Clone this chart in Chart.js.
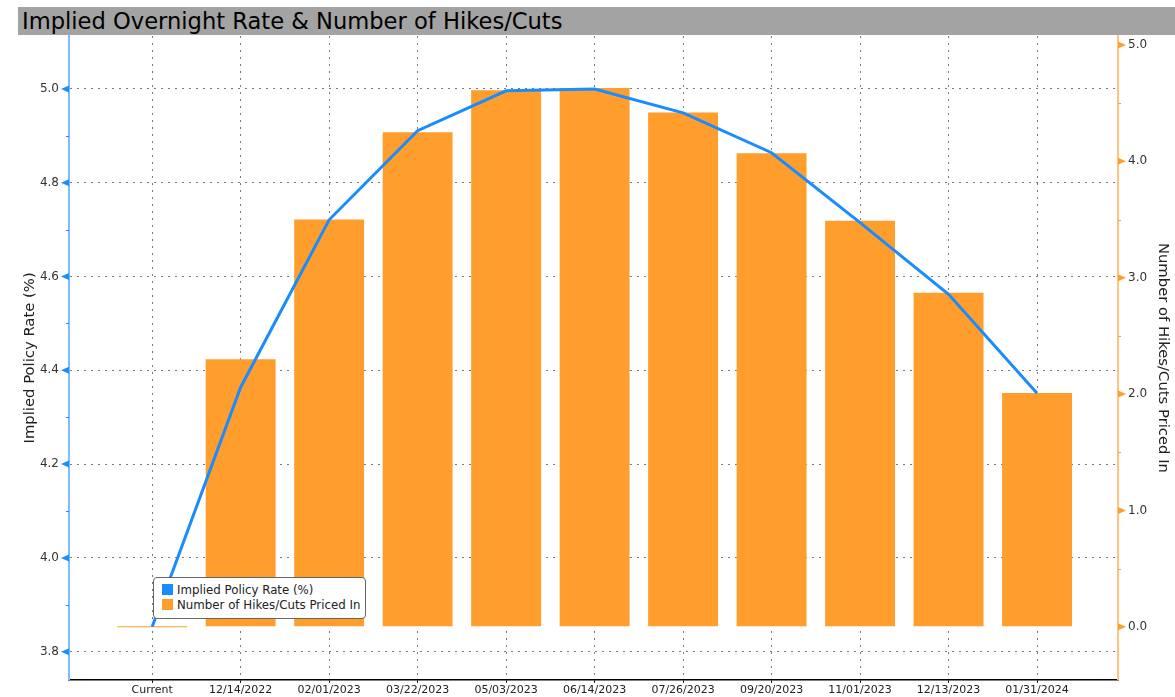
<!DOCTYPE html>
<html>
<head>
<meta charset="utf-8">
<script src="https://cdn.jsdelivr.net/npm/chart.js@4/dist/chart.umd.min.js"></script>
<style>
  body { margin: 0; background: #fff; }
  #wrap { position: relative; width: 1175px; height: 697px; }
  #title {
    position: absolute; left: 18px; top: 7px; width: 1157px; height: 28px;
    background: #a3a3a3; color: #000;
    font-family: "DejaVu Sans", sans-serif; font-size: 22.6px; line-height: 28px;
    padding-left: 4px; box-sizing: border-box;
  }
  #legend {
    position: absolute; left: 153px; top: 577px; width: 213px; height: 42px;
    background: #fff; border: 1px solid #666; border-radius: 4px; box-sizing: border-box;
    font-family: "DejaVu Sans", sans-serif; font-size: 11.8px; color: #222;
    padding: 5px 0 0 8px;
  }
  #legend div { height: 15px; line-height: 15px; white-space: nowrap; }
  #legend span { display: inline-block; width: 11px; height: 11px; margin-right: 4px; vertical-align: -1px; }
</style>
</head>
<body>
<div id="wrap">
  <canvas id="rateChart" width="1175" height="697"></canvas>
  <div id="title">Implied Overnight Rate &amp; Number of Hikes/Cuts</div>
  <div id="legend"></div>
</div>
<script>
const meetings = ['Current', '12/14/2022', '02/01/2023', '03/22/2023', '05/03/2023', '06/14/2023',
                  '07/26/2023', '09/20/2023', '11/01/2023', '12/13/2023', '01/31/2024'];
const impliedRate = [3.853, 4.364, 4.721, 4.911, 4.996, 5.000, 4.949, 4.864, 4.715, 4.562, 4.351];
const hikesPriced = [0, 2.30, 3.50, 4.25, 4.61, 4.63, 4.42, 4.07, 3.49, 2.87, 2.01];
const rateTicks = [3.8, 4.0, 4.2, 4.4, 4.6, 4.8, 5.0];
const hikeTicks = [0, 1, 2, 3, 4, 5];

const blue = '#1a8cff';
const orange = '#ff9e2c';
const gridGray = '#7a7a7a';

// small arrow markers + minor ticks on the two value axes
const axisMarks = {
  id: 'axisMarks',
  afterDraw(chart) {
    const ctx = chart.ctx;
    const draw = (scale, ticks, color, side) => {
      const x0 = side < 0 ? scale.right : scale.left;
      ctx.save();
      ctx.fillStyle = color;
      ctx.strokeStyle = color;
      ctx.lineWidth = 1;
      ticks.forEach((v, i) => {
        const y = scale.getPixelForValue(v);
        ctx.beginPath();
        ctx.moveTo(x0, y - 3.5);
        ctx.lineTo(x0 + side * 8, y);
        ctx.lineTo(x0, y + 3.5);
        ctx.closePath();
        ctx.fill();
        if (i < ticks.length - 1) {
          const ym = Math.round(scale.getPixelForValue((v + ticks[i + 1]) / 2)) + 0.5;
          ctx.beginPath();
          ctx.moveTo(x0, ym);
          ctx.lineTo(x0 + side * 3, ym);
          ctx.stroke();
        }
      });
      ctx.restore();
    };
    draw(chart.scales.yRate, rateTicks, blue, -1);
    draw(chart.scales.yHikes, hikeTicks, orange, 1);
  }
};

const ctx = document.getElementById('rateChart').getContext('2d');
const chart = new Chart(ctx, {
  type: 'bar',
  data: {
    datasets: [{
      type: 'line',
      label: 'Implied Policy Rate (%)',
      data: impliedRate.map((v, i) => ({ x: i, y: v })),
      yAxisID: 'yRate',
      borderColor: blue,
      backgroundColor: blue,
      borderWidth: 3,
      pointRadius: 0,
      tension: 0,
      order: 1
    }, {
      type: 'bar',
      label: 'Number of Hikes/Cuts Priced In',
      data: hikesPriced.map((v, i) => ({ x: i, y: v })),
      yAxisID: 'yHikes',
      backgroundColor: orange,
      categoryPercentage: 1,
      barPercentage: 0.79,
      minBarLength: 1,
      order: 2
    }]
  },
  options: {
    responsive: false,
    animation: false,
    layout: { padding: { top: 36, left: 0, right: 0, bottom: 0 } },
    plugins: { legend: { display: false }, tooltip: { enabled: false } },
    scales: {
      x: {
        type: 'linear',
        offset: false,
        min: -0.94,
        max: 10.915,
        afterBuildTicks: axis => { axis.ticks = meetings.map((m, i) => ({ value: i })); },
        afterFit: axis => { axis.height = 16; },
        ticks: {
          callback: v => meetings[v],
          autoSkip: false,
          maxRotation: 0,
          padding: 1,
          color: '#222',
          font: { family: 'DejaVu Sans', size: 11 }
        },
        grid: { offset: false, color: gridGray, lineWidth: 1, tickLength: 3, tickColor: '#000', tickBorderDash: [] },
        border: { color: '#000', width: 1.5, dash: [2, 5] }
      },
      yRate: {
        position: 'left',
        min: 3.74,
        max: 5.113,
        afterBuildTicks: axis => { axis.ticks = rateTicks.map(v => ({ value: v })); },
        afterFit: axis => { axis.width = 69; },
        ticks: {
          callback: v => v.toFixed(1),
          padding: 10,
          color: '#333',
          font: { family: 'DejaVu Sans', size: 12 }
        },
        grid: { color: gridGray, lineWidth: 1, drawTicks: false },
        border: { color: '#7dbdff', width: 2, dash: [2, 5] },
        title: {
          display: true,
          text: 'Implied Policy Rate (%)',
          color: '#222',
          padding: { top: 21 },
          font: { family: 'DejaVu Sans', size: 14.8 }
        }
      },
      yHikes: {
        position: 'right',
        min: -0.455,
        max: 5.077,
        afterBuildTicks: axis => { axis.ticks = hikeTicks.map(v => ({ value: v })); },
        afterFit: axis => { axis.width = 57; },
        ticks: {
          callback: v => v.toFixed(1),
          padding: 10,
          color: '#333',
          font: { family: 'DejaVu Sans', size: 12 }
        },
        grid: { drawOnChartArea: false, drawTicks: false },
        border: { color: '#ffc47f', width: 2 },
        title: {
          display: true,
          text: 'Number of Hikes/Cuts Priced In',
          color: '#222',
          padding: { top: 3 },
          font: { family: 'DejaVu Sans', size: 14.8 }
        }
      }
    }
  },
  plugins: [axisMarks]
});

// legend box inside the plot
document.getElementById('legend').innerHTML = chart.data.datasets.map(ds =>
  '<div><span style="background:' + (ds.type === 'line' ? ds.borderColor : ds.backgroundColor) + '"></span>' + ds.label + '</div>'
).join('');
</script>
</body>
</html>
